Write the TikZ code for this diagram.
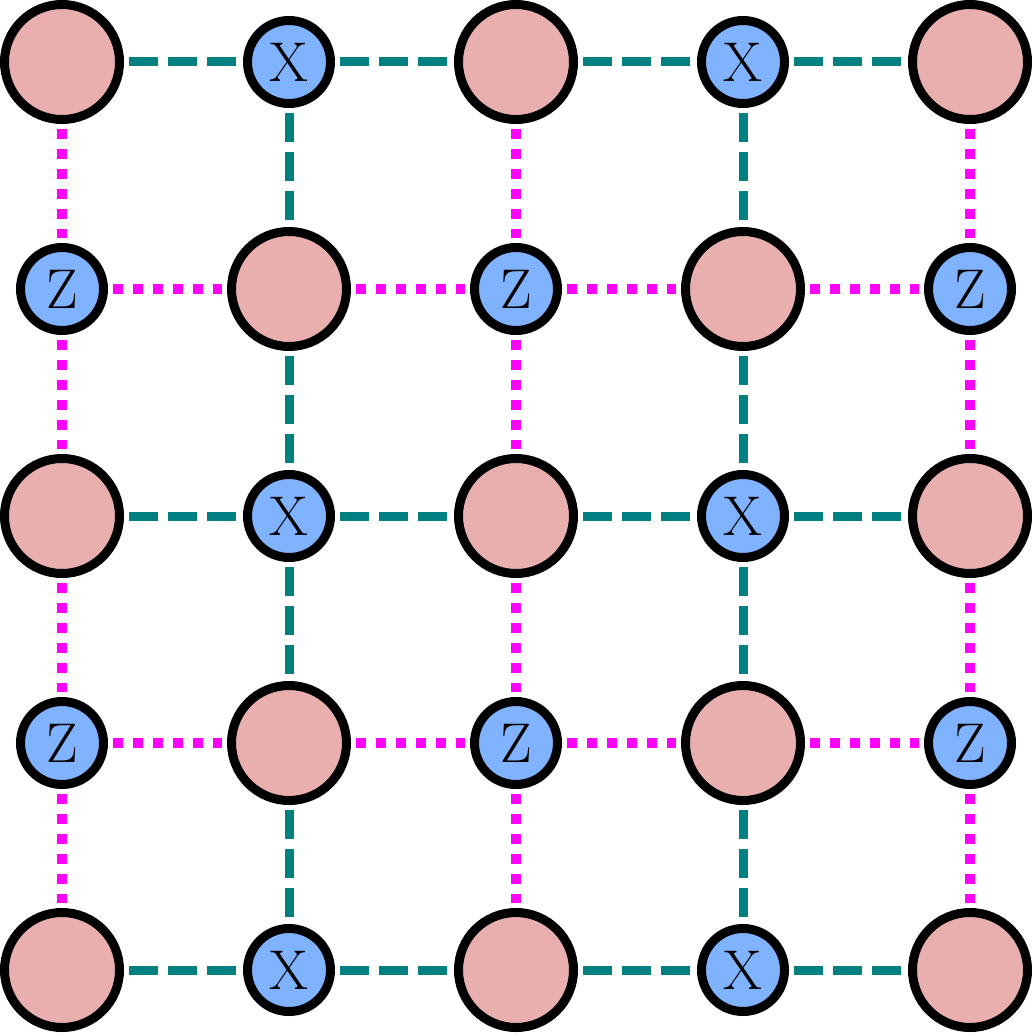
\documentclass[tikz,border=0pt]{standalone}
\usepackage{fontspec}
\definecolor{qpink}{HTML}{E9AFAF}
\definecolor{qblue}{HTML}{80B3FF}
\definecolor{qteal}{HTML}{008080}
\definecolor{qmag}{HTML}{FF00FF}
\begin{document}
\begin{tikzpicture}[x=1pt,y=-1pt,
 data/.style={circle,draw=black,line width=9pt,fill=qpink,minimum size=115pt,inner sep=0pt},
 anc/.style={circle,draw=black,line width=9pt,fill=qblue,minimum size=83pt,inner sep=0pt,font=\fontsize{56}{56}\selectfont},
 xedge/.style={draw=qteal,line width=9pt,dash pattern=on 29pt off 10pt,shorten <=5pt,shorten >=5pt},
 zedge/.style={draw=qmag,line width=10pt,dash pattern=on 10pt off 10pt,shorten <=5pt,shorten >=5pt}]
\useasboundingbox (0,0) rectangle (1032,1033);
% row 0
\node[data] (n00) at (62,62) {};
\node[anc]  (n10) at (289,62) {X};
\node[data] (n20) at (516,62) {};
\node[anc]  (n30) at (743,62) {X};
\node[data] (n40) at (970,62) {};
% row 1
\node[anc]  (n01) at (62,289) {Z};
\node[data] (n11) at (289,289) {};
\node[anc]  (n21) at (516,289) {Z};
\node[data] (n31) at (743,289) {};
\node[anc]  (n41) at (970,289) {Z};
% row 2
\node[data] (n02) at (62,516) {};
\node[anc]  (n12) at (289,516) {X};
\node[data] (n22) at (516,516) {};
\node[anc]  (n32) at (743,516) {X};
\node[data] (n42) at (970,516) {};
% row 3
\node[anc]  (n03) at (62,743) {Z};
\node[data] (n13) at (289,743) {};
\node[anc]  (n23) at (516,743) {Z};
\node[data] (n33) at (743,743) {};
\node[anc]  (n43) at (970,743) {Z};
% row 4
\node[data] (n04) at (62,970) {};
\node[anc]  (n14) at (289,970) {X};
\node[data] (n24) at (516,970) {};
\node[anc]  (n34) at (743,970) {X};
\node[data] (n44) at (970,970) {};
% horizontal X edges
\draw[xedge] (n00) -- (n10); \draw[xedge] (n10) -- (n20); \draw[xedge] (n20) -- (n30); \draw[xedge] (n30) -- (n40);
\draw[xedge] (n02) -- (n12); \draw[xedge] (n12) -- (n22); \draw[xedge] (n22) -- (n32); \draw[xedge] (n32) -- (n42);
\draw[xedge] (n04) -- (n14); \draw[xedge] (n14) -- (n24); \draw[xedge] (n24) -- (n34); \draw[xedge] (n34) -- (n44);
% horizontal Z edges
\draw[zedge] (n01) -- (n11); \draw[zedge] (n11) -- (n21); \draw[zedge] (n21) -- (n31); \draw[zedge] (n31) -- (n41);
\draw[zedge] (n03) -- (n13); \draw[zedge] (n13) -- (n23); \draw[zedge] (n23) -- (n33); \draw[zedge] (n33) -- (n43);
% vertical X edges
\draw[xedge] (n10) -- (n11); \draw[xedge] (n11) -- (n12); \draw[xedge] (n12) -- (n13); \draw[xedge] (n13) -- (n14);
\draw[xedge] (n30) -- (n31); \draw[xedge] (n31) -- (n32); \draw[xedge] (n32) -- (n33); \draw[xedge] (n33) -- (n34);
% vertical Z edges
\draw[zedge] (n00) -- (n01); \draw[zedge] (n01) -- (n02); \draw[zedge] (n02) -- (n03); \draw[zedge] (n03) -- (n04);
\draw[zedge] (n20) -- (n21); \draw[zedge] (n21) -- (n22); \draw[zedge] (n22) -- (n23); \draw[zedge] (n23) -- (n24);
\draw[zedge] (n40) -- (n41); \draw[zedge] (n41) -- (n42); \draw[zedge] (n42) -- (n43); \draw[zedge] (n43) -- (n44);
\end{tikzpicture}
\end{document}
